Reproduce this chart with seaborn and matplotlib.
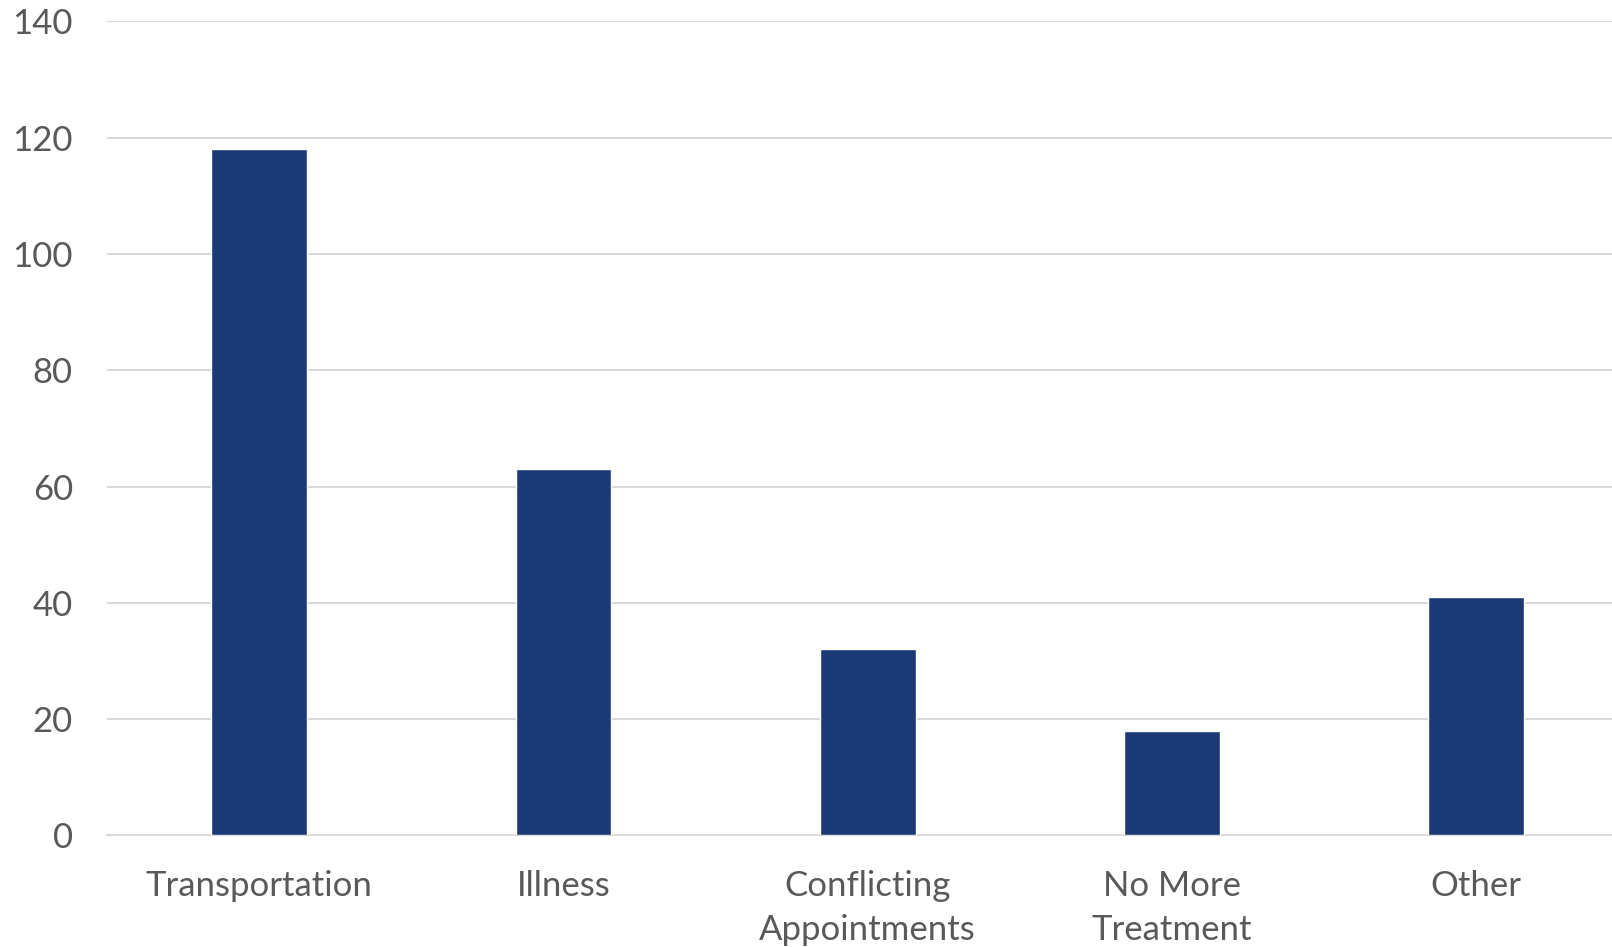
import matplotlib
matplotlib.use("Agg")
import matplotlib.pyplot as plt
import seaborn as sns
import pandas as pd

categories = ["Transportation", "Illness", "Conflicting\nAppointments", "No More\nTreatment", "Other"]
values = [118, 63, 32, 18, 41]
yticks = [0, 20, 40, 60, 80, 100, 120, 140]

sns.set_theme(style="white")
plt.rcParams['font.family'] = ['Lato', 'DejaVu Sans']

df = pd.DataFrame({"reason": categories, "count": values})

fig = plt.figure(figsize=(16.12, 9.47), dpi=100)
ax = fig.add_axes([107/1612, (947-835.3)/947, 1521.5/1612, 813.8/947])

sns.barplot(data=df, x="reason", y="count", color="#1B3A75", width=0.315,
            saturation=1, ax=ax, zorder=3)

ax.set_ylim(0, 140)
ax.set_xlim(-0.5, 4.5)
ax.set_yticks(yticks)
ax.set_yticklabels([str(t) for t in yticks])
ax.yaxis.grid(True, color="#D9D9D9", linewidth=1.5, zorder=0)
ax.set_axisbelow(True)
for s in ["top", "right", "left"]:
    ax.spines[s].set_visible(False)
ax.spines["bottom"].set_color("#D9D9D9")
ax.spines["bottom"].set_linewidth(1.5)
ax.set_xlabel("")
ax.set_ylabel("")
ax.tick_params(axis="both", length=0, labelsize=25, labelcolor="#595959")
ax.tick_params(axis="y", pad=24.5)
ax.tick_params(axis="x", pad=25)
for lab in ax.get_xticklabels():
    lab.set_linespacing(1.45)

fig.savefig("out.png", dpi=100)
